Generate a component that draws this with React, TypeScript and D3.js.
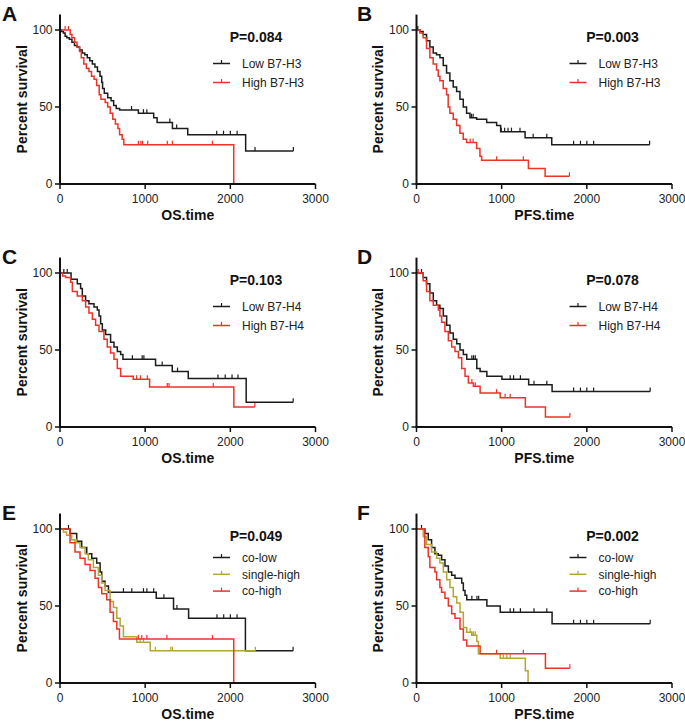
import React from 'react';
import * as d3 from 'd3';

type Step = [number, number];

// ---------- Panel A: OS by B7-H3 ----------
const aLowSteps: Step[] = [[0,100],[20,99],[40,98],[60,96],[80,95],[110,94],[140,92],[170,90],[200,89],[230,87],[260,85],[290,84],[320,82],[350,80],[380,78],[410,76],[440,73],[470,70],[490,66],[500,62],[520,59],[560,56],[600,54],[630,51],[660,49],[700,48],[920,46],[1100,43],[1140,40],[1320,36],[1500,32],[2180,21.5]];
const aLowEnd = 2740;
const aLowCensor = [840,980,1020,1290,1370,1840,1920,2000,2080,2290,2740];
const aHighSteps: Step[] = [[0,100],[120,97],[140,95],[170,92],[200,89],[230,86],[250,82],[280,78],[310,75],[340,73],[370,70],[400,68],[430,64],[460,58],[480,55],[530,53],[560,50],[590,46],[620,42],[650,39],[680,36],[700,32],[730,29],[750,25.5],[2040,0]];
const aHighEnd = 2040;
const aHighCensor = [60,100,920,950,970,1030,1260,1320,1790];

// ---------- Panel B: PFS by B7-H3 ----------
const bLowSteps: Step[] = [[0,100],[40,99],[78,97],[118,93],[157,89],[196,85],[235,84],[275,82],[314,77],[353,72],[392,67],[431,63],[471,60],[510,55],[549,50],[588,46],[628,43],[706,42],[824,40],[941,38],[988,34],[1275,30],[1588,25.5]];
const bLowEnd = 2737;
const bLowCensor = [15,645,665,995,1035,1075,1115,1215,1370,1530,1845,1925,2000,2080,2737];
const bHighSteps: Step[] = [[0,100],[40,98],[78,95],[118,88],[157,82],[196,78],[235,74],[255,70],[275,67],[314,62],[353,58],[372,50],[392,46],[431,42],[471,38],[510,33],[549,29],[588,27],[706,23],[745,18],[765,15.5],[1314,10],[1510,5]];
const bHighEnd = 1796;
const bHighCensor = [630,665,941,1255,1796];

// ---------- Panel C: OS by B7-H4 ----------
const cLowSteps: Step[] = [[0,100],[130,96],[203,93],[242,90],[262,85],[301,82],[340,80],[399,78],[438,76],[458,72],[477,67],[497,63],[536,60],[594,55],[634,52],[673,49],[712,47],[739,44],[1122,40],[1318,36],[1506,31.5],[2186,16]];
const cLowEnd = 2738;
const cLowCensor = [45,85,850,965,985,1200,1380,1855,1940,2020,2090,2738];
const cHighSteps: Step[] = [[0,100],[30,98],[66,97],[125,94],[145,88],[203,85],[262,82],[301,78],[340,74],[380,70],[418,66],[458,62],[516,57],[555,52],[594,48],[634,44],[673,38],[712,33],[860,31],[1052,26],[2041,13]];
const cHighEnd = 2288;
const cHighCensor = [900,945,1025,1260,1280,1800,2288];

// ---------- Panel D: PFS by B7-H4 ----------
const dLowSteps: Step[] = [[0,100],[79,97],[118,93],[157,87],[197,82],[236,79],[275,77],[315,72],[354,66],[393,61],[432,57],[472,54],[511,50],[550,47],[590,44],[708,38],[747,36],[826,33],[1003,31],[1317,27.5],[1592,23]];
const dLowEnd = 2744;
const dLowCensor = [59,650,670,690,1100,1140,1220,1380,1530,1845,1925,2000,2080,2744];
const dHighSteps: Step[] = [[0,100],[79,95],[118,88],[157,82],[197,79],[256,76],[275,72],[295,68],[334,62],[374,56],[413,52],[452,49],[492,45],[531,38],[570,33],[609,28.5],[668,26.5],[747,22],[983,19],[1278,13],[1514,6.5]];
const dHighEnd = 1801;
const dHighCensor = [20,650,690,940,1040,1100,1801];

// ---------- Panel E: OS by co-expression ----------
const eCoLowSteps: Step[] = [[0,100],[118,97],[196,92],[255,88],[314,84],[373,81],[431,78],[471,72],[490,66],[529,63],[569,59],[1130,55],[1333,48],[1510,42],[2177,21]];
const eCoLowEnd = 2737;
const eCoLowCensor = [100,745,843,980,1020,1100,1220,1373,1843,1922,2000,2079,2737];
const eSingleSteps: Step[] = [[0,100],[40,98],[78,96],[137,93],[176,91],[235,88],[294,84],[333,80],[392,75],[451,70],[490,65],[529,60],[588,53],[627,49],[667,42],[706,37],[745,30],[902,26.5],[1059,21]];
const eSingleEnd = 2294;
const eSingleCensor = [196,940,980,1120,1300,1320,2294];
const eCoHighSteps: Step[] = [[0,100],[118,91],[176,85],[235,81],[294,77],[353,73],[412,68],[451,62],[490,58],[549,54],[588,46],[627,40],[667,35],[698,28.5],[2040,0]];
const eCoHighEnd = 2040;
const eCoHighCensor = [920,960,1020,1255,1790];

// ---------- Panel F: PFS by co-expression ----------
const fCoLowSteps: Step[] = [[0,100],[98,97],[138,93],[177,88],[216,84],[256,83],[295,80],[334,76],[374,72],[413,70],[452,68],[531,65],[550,60],[570,57],[590,54],[826,50],[983,46],[1592,38.5]];
const fCoLowEnd = 2744;
const fCoLowCensor = [59,650,710,730,1100,1140,1220,1380,1530,1845,1925,2000,2080,2744];
const fSingleSteps: Step[] = [[0,100],[79,95],[118,90],[177,85],[236,81],[275,78],[315,72],[354,67],[393,62],[432,56],[472,52],[511,46],[550,36],[590,33],[649,31],[708,27],[727,19],[983,16],[1278,8],[1310,0]];
const fSingleEnd = 1310;
const fSingleCensor = [630,650,670,690,1020,1060,1100];
const fCoHighSteps: Step[] = [[0,100],[98,88],[138,82],[157,75],[216,72],[236,67],[275,62],[295,59],[334,55],[374,50],[413,45],[452,42],[511,35],[550,28],[590,24],[747,19],[1514,9.5]];
const fCoHighEnd = 1801;
const fCoHighCensor = [941,1255,1801];

// ---------- labels ----------
const panelLetters = ['A', 'B', 'C', 'D', 'E', 'F'];
const pValues = ['P=0.084', 'P=0.003', 'P=0.103', 'P=0.078', 'P=0.049', 'P=0.002'];
const xTitles = ['OS.time', 'PFS.time', 'OS.time', 'PFS.time', 'OS.time', 'PFS.time'];
const yTitle = 'Percent survival';
const xTicks = [0, 1000, 2000, 3000];
const yTicks = [0, 50, 100];
const labelsH3 = ['Low B7-H3', 'High B7-H3'];
const labelsH4 = ['Low B7-H4', 'High B7-H4'];
const labelsCo = ['co-low', 'single-high', 'co-high'];

const BLACK = '#1c1c1c';
const RED = '#ec3328';
const OLIVE = '#b2a634';

interface Series { steps: Step[]; end: number; censor: number[]; color: string; label: string; }

const panels: Series[][] = [
  [
    { steps: aLowSteps, end: aLowEnd, censor: aLowCensor, color: BLACK, label: labelsH3[0] },
    { steps: aHighSteps, end: aHighEnd, censor: aHighCensor, color: RED, label: labelsH3[1] },
  ],
  [
    { steps: bLowSteps, end: bLowEnd, censor: bLowCensor, color: BLACK, label: labelsH3[0] },
    { steps: bHighSteps, end: bHighEnd, censor: bHighCensor, color: RED, label: labelsH3[1] },
  ],
  [
    { steps: cLowSteps, end: cLowEnd, censor: cLowCensor, color: BLACK, label: labelsH4[0] },
    { steps: cHighSteps, end: cHighEnd, censor: cHighCensor, color: RED, label: labelsH4[1] },
  ],
  [
    { steps: dLowSteps, end: dLowEnd, censor: dLowCensor, color: BLACK, label: labelsH4[0] },
    { steps: dHighSteps, end: dHighEnd, censor: dHighCensor, color: RED, label: labelsH4[1] },
  ],
  [
    { steps: eCoLowSteps, end: eCoLowEnd, censor: eCoLowCensor, color: BLACK, label: labelsCo[0] },
    { steps: eSingleSteps, end: eSingleEnd, censor: eSingleCensor, color: OLIVE, label: labelsCo[1] },
    { steps: eCoHighSteps, end: eCoHighEnd, censor: eCoHighCensor, color: RED, label: labelsCo[2] },
  ],
  [
    { steps: fCoLowSteps, end: fCoLowEnd, censor: fCoLowCensor, color: BLACK, label: labelsCo[0] },
    { steps: fSingleSteps, end: fSingleEnd, censor: fSingleCensor, color: OLIVE, label: labelsCo[1] },
    { steps: fCoHighSteps, end: fCoHighEnd, censor: fCoHighCensor, color: RED, label: labelsCo[2] },
  ],
];

const FONT = '"Liberation Sans", Arial, Helvetica, sans-serif';
const colX0 = [60, 416.5];
const rowY0 = [184, 427, 683];
const plotW = 255.5;
const h100 = 154;

function valueAt(steps: Step[], t: number): number {
  let v = steps[0][1];
  for (const [st, sv] of steps) { if (st <= t) v = sv; else break; }
  return v;
}

function Panel({ idx }: { idx: number }) {
  const col = idx % 2;
  const row = Math.floor(idx / 2);
  const x0 = colX0[col];
  const y0 = rowY0[row];
  const x = d3.scaleLinear().domain([0, 3000]).range([x0, x0 + plotW]);
  const y = d3.scaleLinear().domain([0, 100]).range([y0, y0 - h100]);
  const series = panels[idx];
  const line = d3.line<Step>().x(d => x(d[0])).y(d => y(d[1])).curve(d3.curveStepAfter);
  const three = series.length === 3;
  const legendRow0 = three ? 28.5 : 33.5;
  const legendGap = three ? 16.8 : 19;
  return (
    <g>
      <text x={col === 0 ? 2 : 357} y={y0 - 163.5} fontFamily={FONT} fontWeight="bold" fontSize={21} fill="#111">{panelLetters[idx]}</text>
      {/* curves */}
      {series.map((s, i) => {
        const pts: Step[] = [...s.steps, [s.end, s.steps[s.steps.length - 1][1]]];
        return (
          <g key={i}>
            <path d={line(pts) || ''} fill="none" stroke={s.color} strokeWidth={1.5} />
            {s.censor.map((c, j) => {
              const v = valueAt(s.steps, c);
              return <line key={j} x1={x(c)} x2={x(c)} y1={y(v)} y2={y(v) - 4} stroke={s.color} strokeWidth={1.2} />;
            })}
          </g>
        );
      })}
      {/* axes */}
      <line x1={x0} x2={x0} y1={y(0)} y2={y(110)} stroke="#111" strokeWidth={2} />
      <line x1={x0 - 1} x2={x(3000)} y1={y0} y2={y0} stroke="#111" strokeWidth={2} />
      {yTicks.map(t => (
        <g key={'y' + t}>
          <line x1={x0 - 5} x2={x0} y1={y(t)} y2={y(t)} stroke="#111" strokeWidth={1.5} />
          <text x={x0 - 7.5} y={y(t) + 4.3} textAnchor="end" fontFamily={FONT} fontSize={12} fill="#222">{t}</text>
        </g>
      ))}
      {xTicks.map(t => (
        <g key={'x' + t}>
          <line x1={x(t)} x2={x(t)} y1={y0} y2={y0 + 5} stroke="#111" strokeWidth={1.5} />
          <text x={x(t)} y={y0 + 18.5} textAnchor="middle" fontFamily={FONT} fontSize={12} fill="#222">{t}</text>
        </g>
      ))}
      <text x={x0 + plotW / 2} y={y0 + 36} textAnchor="middle" fontFamily={FONT} fontWeight="bold" fontSize={14} fill="#111">{xTitles[idx]}</text>
      <text transform={`translate(${x0 - 33.5},${y(55)}) rotate(-90)`} textAnchor="middle" fontFamily={FONT} fontWeight="bold" fontSize={14} fill="#111">{yTitle}</text>
      {/* p value */}
      <text x={x0 + 196} y={y(100) + 11.7} textAnchor="middle" fontFamily={FONT} fontWeight="bold" fontSize={14} fill="#111">{pValues[idx]}</text>
      {/* legend */}
      {series.map((s, i) => {
        const ly = y(100) + legendRow0 + i * legendGap;
        return (
          <g key={'l' + i}>
            <line x1={x0 + 153} x2={x0 + 170} y1={ly} y2={ly} stroke={s.color} strokeWidth={1.5} />
            <line x1={x0 + 161.5} x2={x0 + 161.5} y1={ly} y2={ly - 3.5} stroke={s.color} strokeWidth={1.2} />
            <text x={x0 + 182} y={ly + 4.3} fontFamily={FONT} fontSize={12} fill="#222">{s.label}</text>
          </g>
        );
      })}
    </g>
  );
}

export default function App() {
  return (
    <svg width={685} height={721} style={{ position: 'absolute', left: 0, top: 0, background: '#fff' }}>
      <rect x={0} y={0} width={685} height={721} fill="#fff" />
      {panelLetters.map((_, i) => <Panel key={i} idx={i} />)}
    </svg>
  );
}
